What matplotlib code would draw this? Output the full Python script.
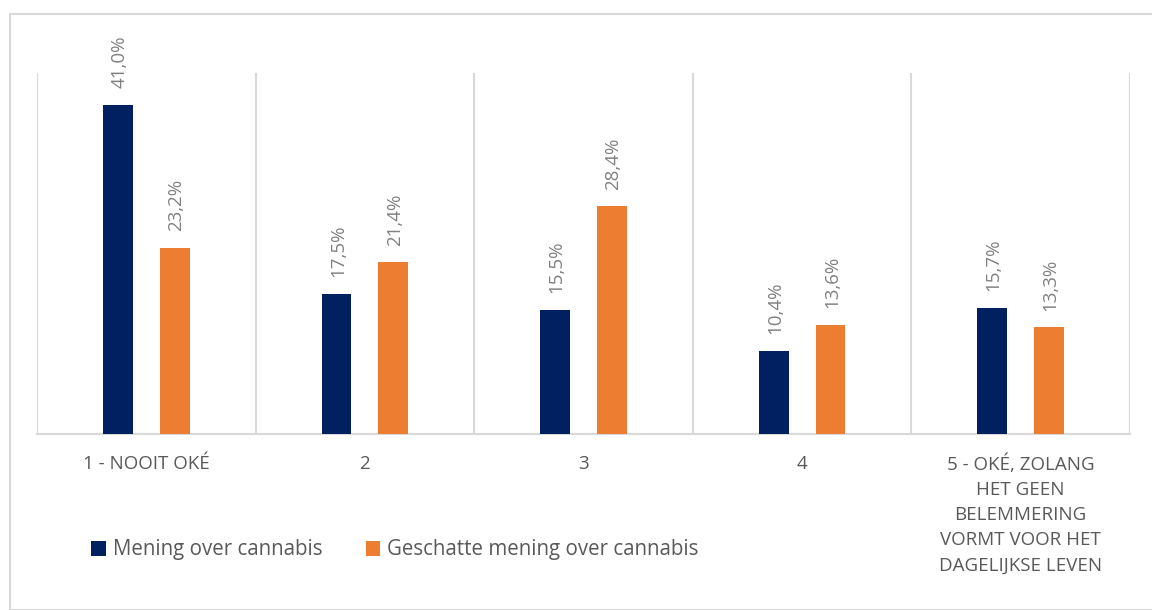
import matplotlib
matplotlib.use("Agg")
import matplotlib.pyplot as plt
from matplotlib.patches import Rectangle
import numpy as np

categories = ["1 - NOOIT OKÉ", "2", "3", "4",
              "5 - OKÉ, ZOLANG\nHET GEEN\nBELEMMERING\nVORMT VOOR HET\nDAGELIJKSE LEVEN"]
mening = [41.0, 17.5, 15.5, 10.4, 15.7]
geschat = [23.2, 21.4, 28.4, 13.6, 13.3]
series_names = ["Mening over cannabis", "Geschatte mening over cannabis"]

BLUE = "#002060"
ORANGE = "#ED7D31"
GRID = "#d9d9d9"
TXT = "#595959"
LBL = "#808080"

plt.rcParams['font.family'] = ['Open Sans', 'DejaVu Sans']

fig = plt.figure(figsize=(11.52, 6.10), dpi=100)
# outer chart border
fig.patches.append(Rectangle((10/1152, 0), 1.2, 1 - 14/610, transform=fig.transFigure,
                             fill=False, edgecolor=GRID, linewidth=1.5, zorder=0))

ax = fig.add_axes([37/1152, 1 - 434/610, (1130 - 37)/1152, (434 - 73)/610])
x = np.arange(len(categories))
w = 0.137
off = 0.13
b1 = ax.bar(x - off, mening, width=w, color=BLUE, label=series_names[0], zorder=3)
b2 = ax.bar(x + off, geschat, width=w, color=ORANGE, label=series_names[1], zorder=3)

ax.set_xlim(-0.5, len(categories) - 0.5)
ax.set_ylim(0, 45)
ax.set_yticks([])
for s in ["top", "right", "left"]:
    ax.spines[s].set_visible(False)
ax.spines["bottom"].set_color(GRID)
ax.spines["bottom"].set_linewidth(1.5)
for xb in np.arange(-0.5, len(categories), 1.0):
    ax.axvline(xb, color=GRID, linewidth=1.5, zorder=1)

ax.set_xticks(x)
ax.set_xticklabels(categories, fontsize=13.5, color=TXT, va="top", linespacing=1.5)
ax.tick_params(axis="x", length=0, pad=15)

def fmt(v):
    return f"{v:.1f}".replace(".", ",") + "%"

for bars, vals in ((b1, mening), (b2, geschat)):
    for rect, v in zip(bars, vals):
        ax.annotate(fmt(v), (rect.get_x() + rect.get_width() / 2, v),
                    xytext=(1, 12), textcoords="offset points",
                    rotation=90, ha="center", va="bottom",
                    fontsize=13.5, color=LBL)

fig.legend(handles=[b1, b2], labels=series_names, loc="center",
           bbox_to_anchor=(395/1152, 1 - 550/610), ncol=2, frameon=False,
           fontsize=14.8, labelcolor=TXT, handlelength=0.7, handleheight=0.7,
           handletextpad=0.35, columnspacing=2.1)

fig.savefig("out.png", dpi=100)
